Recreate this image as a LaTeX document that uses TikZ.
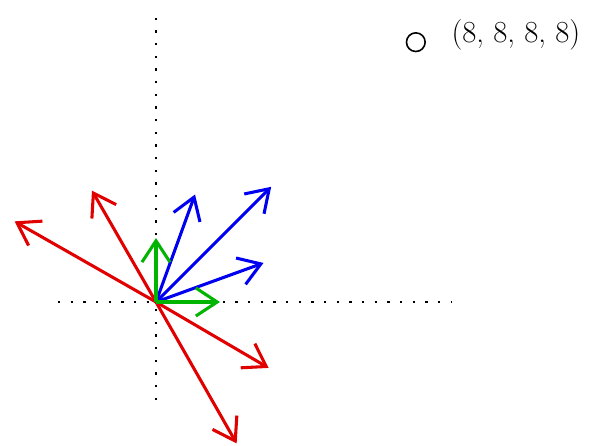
\documentclass[tikz,border=0pt]{standalone}
\usepackage{tikz}
\usetikzlibrary{arrows.meta,positioning}
\definecolor{vred}{RGB}{225,0,0}
\definecolor{vblue}{RGB}{0,0,240}
\definecolor{vgreen}{RGB}{0,180,0}
\tikzset{
  vaxis/.style={line width=1.6pt, dash pattern=on 1.6pt off 7.9pt, line cap=butt},
  vvec/.style={line width=2.3pt, -{Straight Barb[length=16pt, width=21pt, line width=2.3pt]}},
  vmark/.style={draw, circle, line width=1.2pt, minimum size=14pt, inner sep=0pt},
  vlabel/.style={font=\fontsize{23}{25}\selectfont, inner sep=0pt}
}
\begin{document}
\begin{tikzpicture}[x=48pt,y=48pt]
\useasboundingbox (-2.4375,-2.25) rectangle (6.766,4.719);
\coordinate (o) at (0,0);
\coordinate (xl) at (-1.53,0);
\coordinate (xr) at (4.63,0);
\coordinate (yb) at (0,-1.53);
\coordinate (yt) at (0,4.59);
\draw[vaxis] (xl) -- (xr);
\draw[vaxis] (yb) -- (yt);
% short ones
\coordinate (g1) at (1,0);
\coordinate (g2) at (0,1);
\coordinate (b1) at (1.68,0.61);
\coordinate (b2) at (1.80,1.80);
\coordinate (b3) at (0.61,1.68);
\coordinate (r1) at (-1.0,1.74);
\coordinate (r2) at (-2.21,1.26);
\coordinate (r3) at (1.76,-1.03);
\coordinate (r4) at (1.26,-2.21);
\draw[vvec, vred] (o) -- (r1);
\draw[vvec, vred] (o) -- (r2);
\draw[vvec, vred] (o) -- (r3);
\draw[vvec, vred] (o) -- (r4);
\draw[vvec, vblue] (o) -- (b1);
\draw[vvec, vblue] (o) -- (b2);
\draw[vvec, vblue] (o) -- (b3);
\draw[vvec, vgreen] (o) -- (g1);
\draw[vvec, vgreen] (o) -- (g2);
\node[vmark] (pt) at (4.06,4.06) {};
\node[vlabel, right=19pt of pt, anchor=base west] (lbl) {(8, 8, 8, 8)};
\end{tikzpicture}
\end{document}
